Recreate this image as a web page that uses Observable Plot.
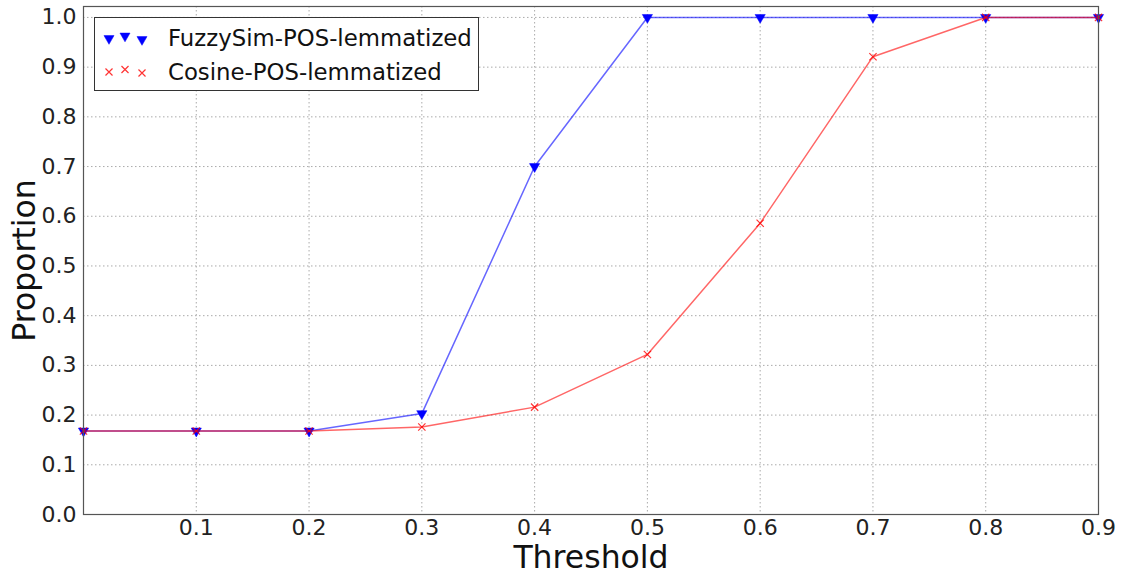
<!DOCTYPE html>
<html>
<head>
<meta charset="utf-8">
<script src="https://cdn.jsdelivr.net/npm/d3@7"></script>
<script src="https://cdn.jsdelivr.net/npm/@observablehq/plot@0.6"></script>
<style>
  body { margin: 0; background: #fff; }
  #wrap { position: relative; width: 1123px; height: 577px; font-family: "DejaVu Sans", sans-serif; }
  #legend { position: absolute; left: 94px; top: 17px; width: 385px; height: 74px; border: 1px solid #333; background: #fff; box-sizing: border-box; }
</style>
</head>
<body>
<div id="wrap"></div>
<script>
const thresholds = [0, 0.1, 0.2, 0.3, 0.4, 0.5, 0.6, 0.7, 0.8, 0.9];
const fuzzySim = [0.168, 0.168, 0.168, 0.203, 0.700, 1.0, 1.0, 1.0, 1.0, 1.0];
const cosine = [0.168, 0.168, 0.168, 0.176, 0.216, 0.322, 0.586, 0.921, 1.0, 1.0];
const seriesNames = ["FuzzySim-POS-lemmatized", "Cosine-POS-lemmatized"];
const xTicks = [0.1, 0.2, 0.3, 0.4, 0.5, 0.6, 0.7, 0.8, 0.9];
const yTicks = [0.0, 0.1, 0.2, 0.3, 0.4, 0.5, 0.6, 0.7, 0.8, 0.9, 1.0];

const fuzzyData = thresholds.map((t, i) => ({x: t, y: fuzzySim[i]}));
const cosData = thresholds.map((t, i) => ({x: t, y: cosine[i]}));

const chart = Plot.plot({
  width: 1123,
  height: 577,
  marginLeft: 83,
  marginRight: 25,
  marginTop: 6,
  marginBottom: 63,
  style: {fontFamily: "DejaVu Sans, sans-serif", background: "#fff"},
  x: {domain: [0, 0.9], label: null},
  y: {domain: [0, 1.022], label: null},
  marks: [
    Plot.gridX(xTicks.slice(0, -1), {stroke: "#aaa", strokeOpacity: 1, strokeDasharray: "1.5,2.5"}),
    Plot.gridY(yTicks.slice(1), {stroke: "#aaa", strokeOpacity: 1, strokeDasharray: "1.5,2.5"}),
    Plot.line(fuzzyData, {x: "x", y: "y", stroke: "blue", strokeOpacity: 0.6, strokeWidth: 1.5}),
    Plot.dot(fuzzyData, {x: "x", y: "y", symbol: "triangle", rotate: 180, r: 3.8, fill: "blue", stroke: "blue", strokeWidth: 0.5}),
    Plot.line(cosData, {x: "x", y: "y", stroke: "red", strokeOpacity: 0.6, strokeWidth: 1.5}),
    Plot.dot(cosData, {x: "x", y: "y", symbol: "times", r: 3.4, stroke: "red", strokeOpacity: 0.8, strokeWidth: 1.2}),
    Plot.frame({stroke: "#555", strokeWidth: 1.2}),
    Plot.axisX(xTicks, {tickSize: 0, tickPadding: 5, tickFormat: d3.format(".1f"), fontSize: 22, fill: "#222", label: null}),
    Plot.axisY(yTicks, {tickSize: 0, tickPadding: 7, tickFormat: d3.format(".1f"), fontSize: 22, fill: "#222", label: null}),
    Plot.text(["Threshold"], {frameAnchor: "bottom", lineAnchor: "middle", textAnchor: "middle", dy: 43, fontSize: 31.5, fill: "#111", text: d => d}),
    Plot.text(["Proportion"], {frameAnchor: "left", lineAnchor: "middle", textAnchor: "middle", dx: -59, rotate: -90, fontSize: 31.5, fill: "#111", text: d => d})
  ]
});

const wrap = document.getElementById("wrap");
wrap.appendChild(chart);

// Legend (matplotlib style with 3 scatter points)
const legend = document.createElement("div");
legend.id = "legend";
wrap.appendChild(legend);
const lsvg = d3.select(legend).append("svg").attr("width", 385).attr("height", 74)
  .style("position", "absolute").style("left", "-1px").style("top", "-1px");
const offsets = [[15, 21.5], [31, 19], [48, 22.5]];
const tri = d3.symbol(d3.symbolTriangle, 44)();
const cross = d3.symbol(d3.symbolTimes, 34)();
offsets.forEach(([ox, oy]) => {
  lsvg.append("path").attr("d", tri).attr("transform", `translate(${ox},${oy}) rotate(180)`)
    .attr("fill", "blue").attr("stroke", "blue").attr("stroke-width", 0.5);
  lsvg.append("path").attr("d", cross).attr("transform", `translate(${ox},${oy + 33.5})`)
    .attr("fill", "none").attr("stroke", "red").attr("stroke-opacity", 0.8).attr("stroke-width", 1.2);
});
seriesNames.forEach((name, i) => {
  lsvg.append("text").attr("x", 74).attr("y", 29 + i * 34).text(name)
    .attr("font-size", 22.8).attr("fill", "#111").attr("font-family", "DejaVu Sans, sans-serif");
});
</script>
</body>
</html>
